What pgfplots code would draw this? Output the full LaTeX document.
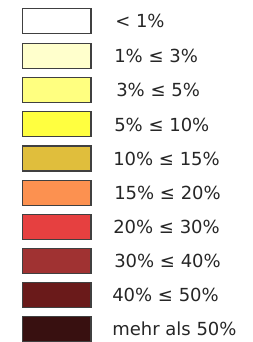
\documentclass[border=0pt]{standalone}
\usepackage{pgfplots}
\pgfplotsset{compat=1.18}
\usepackage{fontspec}
\setmainfont{DejaVu Sans}
\definecolor{bd}{RGB}{64,64,64}
\definecolor{c1}{RGB}{255,255,255}
\definecolor{c2}{RGB}{255,255,204}
\definecolor{c3}{RGB}{255,255,128}
\definecolor{c4}{RGB}{255,255,64}
\definecolor{c5}{RGB}{224,190,60}
\definecolor{c6}{RGB}{252,145,80}
\definecolor{c7}{RGB}{230,64,64}
\definecolor{c8}{RGB}{160,50,50}
\definecolor{c9}{RGB}{106,26,26}
\definecolor{c10}{RGB}{56,16,16}
\begin{document}
\begin{tikzpicture}
\begin{axis}[
  scale only axis, width=189.75pt, height=256.5pt,
  xmin=0, xmax=253, ymin=0, ymax=342, y dir=reverse,
  hide axis, clip=false,
]
\addplot[draw=none, forget plot] coordinates {(0,0) (253,0) (253,342) (0,342)};
\addplot[fill=c1, draw=bd, line width=0.8pt] coordinates {(22.7,8.3) (91,8.3) (91,33.3) (22.7,33.3)} -- cycle;
\addplot[fill=c2, draw=bd, line width=0.8pt] coordinates {(22.7,43.3) (91,43.3) (91,68.3) (22.7,68.3)} -- cycle;
\addplot[fill=c3, draw=bd, line width=0.8pt] coordinates {(22.7,77.7) (91,77.7) (91,102.7) (22.7,102.7)} -- cycle;
\addplot[fill=c4, draw=bd, line width=0.8pt] coordinates {(22.7,111.8) (91,111.8) (91,136.8) (22.7,136.8)} -- cycle;
\addplot[fill=c5, draw=bd, line width=0.8pt] coordinates {(22.7,146) (91,146) (91,171) (22.7,171)} -- cycle;
\addplot[fill=c6, draw=bd, line width=0.8pt] coordinates {(22.7,180.2) (91,180.2) (91,205.2) (22.7,205.2)} -- cycle;
\addplot[fill=c7, draw=bd, line width=0.8pt] coordinates {(22.7,214.5) (91,214.5) (91,239.5) (22.7,239.5)} -- cycle;
\addplot[fill=c8, draw=bd, line width=0.8pt] coordinates {(22.7,248.5) (91,248.5) (91,273.5) (22.7,273.5)} -- cycle;
\addplot[fill=c9, draw=bd, line width=0.8pt] coordinates {(22.7,282.5) (91,282.5) (91,307.5) (22.7,307.5)} -- cycle;
\addplot[fill=c10, draw=bd, line width=0.8pt] coordinates {(22.7,316.7) (91,316.7) (91,341.5) (22.7,341.5)} -- cycle;
\begin{scope}[every node/.style={anchor=base west, inner sep=0pt, font=\fontsize{13.5}{15}\selectfont, text=black!85}]
\node at (axis cs:115,27.6) {< 1\%};
\node at (axis cs:114,62.6) {1\% ≤ 3\%};
\node at (axis cs:116,97) {3\% ≤ 5\%};
\node at (axis cs:114,131.1) {5\% ≤ 10\%};
\node at (axis cs:113,165.3) {10\% ≤ 15\%};
\node at (axis cs:114,199.5) {15\% ≤ 20\%};
\node at (axis cs:113,233.8) {20\% ≤ 30\%};
\node at (axis cs:114,267.8) {30\% ≤ 40\%};
\node at (axis cs:112,301.8) {40\% ≤ 50\%};
\node at (axis cs:112,336) {mehr als 50\%};
\end{scope}
\end{axis}
\end{tikzpicture}
\end{document}
